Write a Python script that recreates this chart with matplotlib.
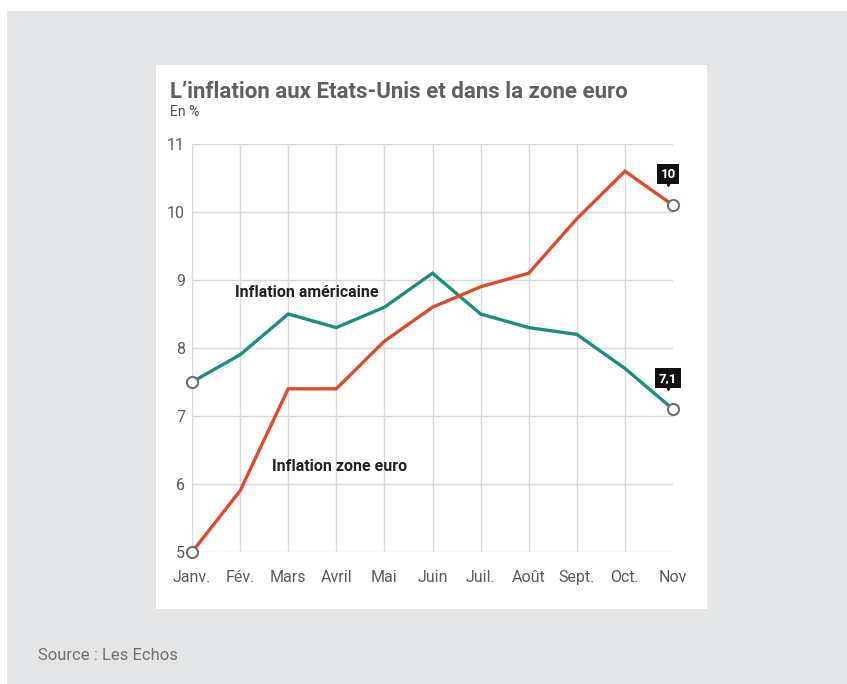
import matplotlib
matplotlib.use("Agg")
import matplotlib.pyplot as plt
import matplotlib.patches as mpatches
import matplotlib.transforms as mtrans

months = ["Janv.", "Fév.", "Mars", "Avril", "Mai", "Juin", "Juil.", "Août", "Sept.", "Oct.", "Nov"]
us_inflation = [7.5, 7.9, 8.5, 8.3, 8.6, 9.1, 8.5, 8.3, 8.2, 7.7, 7.1]
euro_inflation = [5.0, 5.9, 7.4, 7.4, 8.1, 8.6, 8.9, 9.1, 9.9, 10.6, 10.1]
y_ticks = [5, 6, 7, 8, 9, 10, 11]
us_end_label = "7,1"
euro_end_label = "10"

GREEN = "#1b8f7e"
RED = "#e04a2b"
GRID = "#d8d8d8"
TICK = "#5a5a5a"

W, H = 847, 684
fig = plt.figure(figsize=(W / 100, H / 100), dpi=100)
fig.patch.set_facecolor("white")

def fx(px):
    return px / W

def fy(py):
    return 1 - py / H

# gray background and white panel
fig.patches.append(mpatches.Rectangle((fx(7), 0), 1 - fx(7), fy(11), transform=fig.transFigure,
                                      facecolor="#e4e5e7", edgecolor="none", zorder=-10))
fig.patches.append(mpatches.Rectangle((fx(156), fy(609)), fx(707) - fx(156), fy(65) - fy(609),
                                      transform=fig.transFigure, facecolor="white", edgecolor="none", zorder=-9))

ax = fig.add_axes([fx(192), fy(552), fx(673) - fx(192), fy(144) - fy(552)])
ax.set_facecolor("none")
x = list(range(len(months)))
ax.set_xlim(0, len(months) - 1)
ax.set_ylim(5, 11)

for yv in y_ticks:
    ax.axhline(yv, color=GRID, lw=1.0, zorder=0)
for xv in x[:-1]:
    ax.axvline(xv, color=GRID, lw=1.0, zorder=0)

ax.plot(x, us_inflation, color=GREEN, lw=2.4, zorder=3, solid_joinstyle="miter", clip_on=False)
ax.plot(x, euro_inflation, color=RED, lw=2.4, zorder=3, solid_joinstyle="miter", clip_on=False)

# end markers
for xs, ys in [([x[0], x[-1]], [us_inflation[0], us_inflation[-1]]),
               ([x[0], x[-1]], [euro_inflation[0], euro_inflation[-1]])]:
    ax.plot(xs, ys, linestyle="none", marker="o", ms=8, mfc="white", mec="#707070", mew=1.5,
            zorder=5, clip_on=False)

# value labels
for val, lab in [(us_inflation[-1], us_end_label), (euro_inflation[-1], euro_end_label)]:
    ax.annotate(lab, xy=(x[-1], val), xytext=(-5, 31), textcoords="offset pixels",
                ha="center", va="center", fontsize=9.5, fontweight="bold", color="white",
                family=["Roboto", "DejaVu Sans"],
                bbox=dict(boxstyle="square,pad=0.28", fc="#111111", ec="none"), zorder=6,
                annotation_clip=False)
    tr = mtrans.offset_copy(ax.transData, fig=fig, x=-5, y=22, units="dots")
    ax.plot([x[-1]], [val], marker="v", ms=5, color="#111111", transform=tr, clip_on=False, zorder=6)

ax.set_xticks(x)
ax.set_xticklabels(months)
ax.set_yticks(y_ticks)
ax.set_yticklabels([str(v) for v in y_ticks])
ax.tick_params(length=0, labelsize=11.5, labelcolor=TICK)
ax.tick_params(axis="x", pad=13)
ax.tick_params(axis="y", pad=5)
for lab in ax.get_xticklabels() + ax.get_yticklabels():
    lab.set_family(["Roboto", "DejaVu Sans"])
for s in ax.spines.values():
    s.set_visible(False)

# series annotations
ax.text(0.9, 8.82, "Inflation américaine", fontsize=11.5, fontweight="bold", color="#222222",
        family=["Roboto", "DejaVu Sans"], va="center", ha="left")
ax.text(1.67, 6.25, "Inflation zone euro", fontsize=11.5, fontweight="bold", color="#222222",
        family=["Roboto", "DejaVu Sans"], va="center", ha="left")

# titles
fig.text(fx(170), fy(92), "L’inflation aux Etats-Unis et dans la zone euro", fontsize=16,
         fontweight="bold", color="#606060", family=["Roboto", "DejaVu Sans"], va="center", ha="left")
fig.text(fx(170), fy(112), "En %", fontsize=10, color="#505050",
         family=["Roboto", "DejaVu Sans"], va="center", ha="left")

fig.text(fx(38), fy(656), "Source : Les Echos", fontsize=12, color="#707070",
         family=["Roboto", "DejaVu Sans"], va="center", ha="left")

fig.savefig("out.png", dpi=100)
